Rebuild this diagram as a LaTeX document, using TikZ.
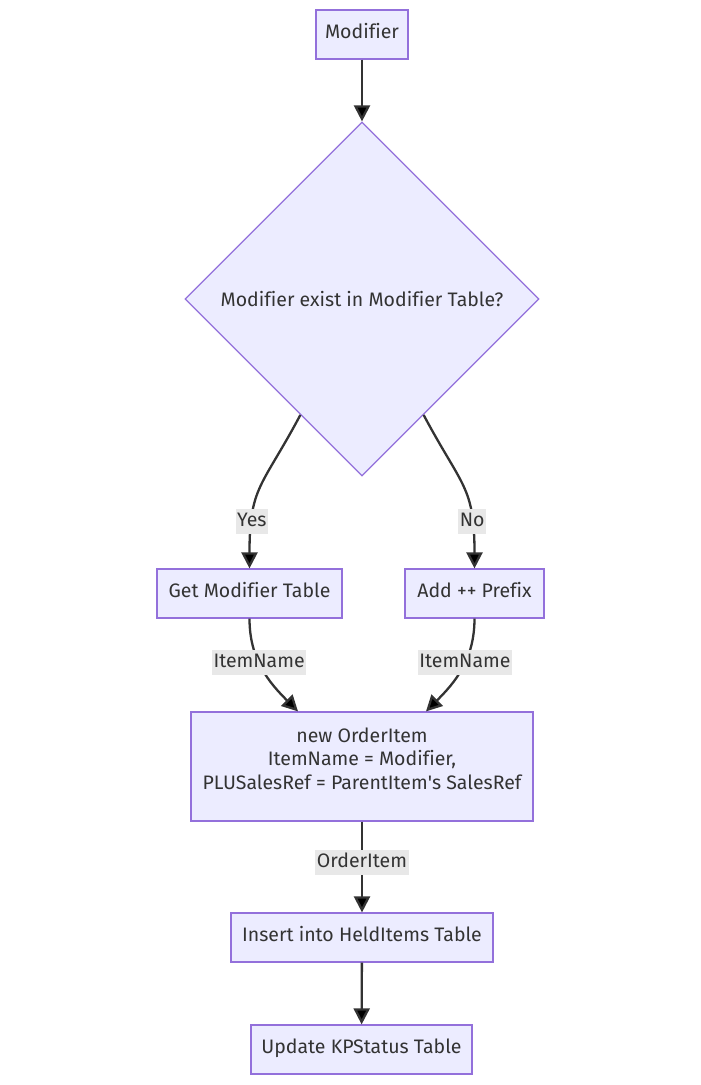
\documentclass[tikz,border=0pt]{standalone}
\usepackage{fontspec}
\setmainfont{Fira Sans}[Ligatures=NoCommon]
\usetikzlibrary{shapes.geometric,arrows.meta}
\definecolor{boxfill}{HTML}{ECECFF}
\definecolor{boxline}{HTML}{9370DB}
\definecolor{inkline}{HTML}{333333}
\definecolor{tagfill}{HTML}{E8E8E8}

\begin{document}
\begin{tikzpicture}[x=1pt, y=1pt, font=\fontsize{19.5}{23.5}\selectfont, text=inkline,
	box/.style={draw=boxline, fill=boxfill, line width=1.2pt, minimum height=49pt, inner sep=0pt, text height=14pt, text depth=7pt},
	decision/.style={diamond, draw=boxline, fill=boxfill, line width=1.2pt, aspect=1, minimum size=354pt, inner sep=0pt},
	flow/.style={draw=inkline, line width=2.3pt, -{Triangle[width=16pt,length=16pt]}},
	tag/.style={fill=tagfill, inner xsep=1.5pt, inner ysep=3pt, text height=14pt, text depth=4.5pt}]
	\useasboundingbox (0,0) rectangle (701,-1085);
	% boxes
	\node[box, minimum width=92pt] (m) at (362,-34.5) {Modifier};
	\node[decision] (d) at (362,-299) {Modifier exist in Modifier Table?};
	\node[box, minimum width=185pt] (g) at (249.5,-593.5) {Get Modifier Table};
	\node[box, minimum width=139pt] (a) at (474.5,-593.5) {Add ++ Prefix};
	\node[box, minimum width=342pt, minimum height=109pt, text height=, text depth=] (n) at (362,-766.5) {};
	\node[align=center] (ntext) at (362,-758.5) {new OrderItem\\ItemName = Modifier,\\PLUSalesRef = ParentItem\textquotesingle s SalesRef};
	\node[box, minimum width=262pt] (i) at (362,-937.5) {Insert into HeldItems Table};
	\node[box, minimum width=221pt] (u) at (361.5,-1049.5) {Update KPStatus Table};
	% connectors
	\path[flow]
	(m) edge (d)
	(d) edge[out=-118, in=90, looseness=1.3] node[tag, pos=0.76]{Yes} (g)
	(d) edge[out=-62, in=90, looseness=1.3] node[tag, pos=0.76]{No} (a)
	(g) edge[out=-90, in=135] node[tag, pos=0.42]{ItemName} ([xshift=-64pt]n.north)
	(a) edge[out=-90, in=45] node[tag, pos=0.42]{ItemName} ([xshift=64pt]n.north)
	(n) edge node[tag, pos=0.45]{OrderItem} (i)
	(i) edge (u);
\end{tikzpicture}
\end{document}
